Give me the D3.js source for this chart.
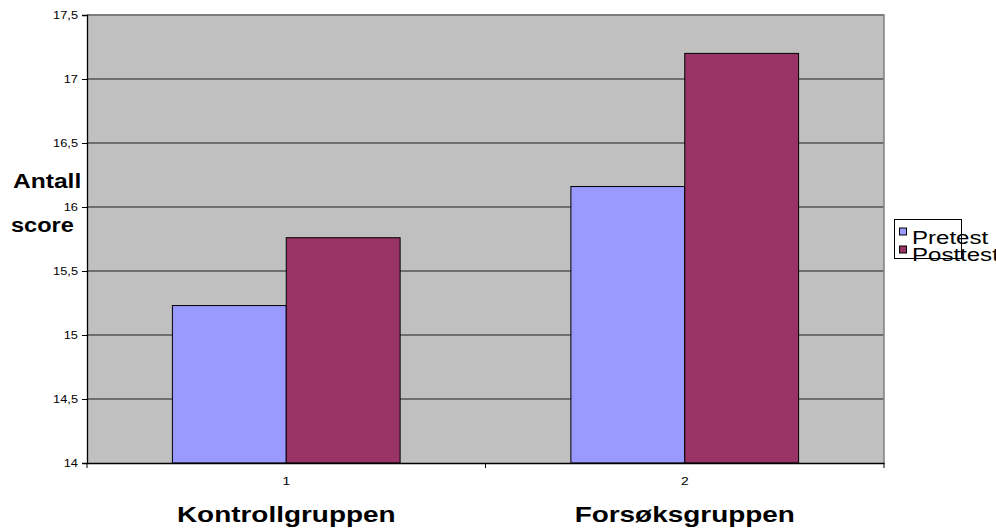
<!DOCTYPE html>
<html>
<head>
<meta charset="utf-8">
<script src="https://cdn.jsdelivr.net/npm/d3@7"></script>
<style>
  html, body { margin: 0; padding: 0; background: #fff; }
  svg { display: block; font-family: Arial, "Liberation Sans", sans-serif; }
</style>
</head>
<body>
<svg id="chart" width="996" height="529"></svg>
<script>
// Mean scores per group, before and after
const categories = ["1", "2"];
const groupNames = ["Kontrollgruppen", "Forsøksgruppen"];
const seriesNames = ["Pretest", "Posttest"];
const seriesColors = ["#9999FF", "#993366"];
const pretest = [15.23, 16.16];
const posttest = [15.76, 17.2];
const yTicks = [14, 14.5, 15, 15.5, 16, 16.5, 17, 17.5];

const series = [pretest, posttest];
const svg = d3.select("#chart");

const plot = { left: 87, right: 884, top: 15, bottom: 463 };

const x = d3.scaleBand().domain(categories).range([plot.left, plot.right]).padding(0);
const xInner = d3.scaleBand().domain(seriesNames).range([0, x.bandwidth()])
  .paddingInner(0).paddingOuter(0.75);
const y = d3.scaleLinear().domain([14, 17.5]).range([plot.bottom, plot.top]);

const fmt = v => d3.format("")(v).replace(".", ",");

// Plot area background
svg.append("rect")
  .attr("x", plot.left).attr("y", plot.top)
  .attr("width", plot.right - plot.left).attr("height", plot.bottom - plot.top)
  .attr("fill", "#C0C0C0");

// Horizontal gridlines
svg.append("g").selectAll("line")
  .data(yTicks.filter(t => t > 14))
  .join("line")
  .attr("x1", plot.left).attr("x2", plot.right)
  .attr("y1", d => y(d)).attr("y2", d => y(d))
  .attr("stroke", "#555").attr("stroke-width", 1.3);

// Frame on top and right side
svg.append("path")
  .attr("d", `M${plot.left},${plot.top}H${plot.right}V${plot.bottom}`)
  .attr("fill", "none").attr("stroke", "#808080").attr("stroke-width", 1.5);

// Bars
const groups = svg.append("g").selectAll("g")
  .data(categories)
  .join("g")
  .attr("transform", d => `translate(${x(d)},0)`);

groups.selectAll("rect")
  .data((d, i) => seriesNames.map((s, j) => ({ s, j, v: series[j][i] })))
  .join("rect")
  .attr("x", d => xInner(d.s))
  .attr("width", xInner.bandwidth())
  .attr("y", d => y(d.v))
  .attr("height", d => y(14) - y(d.v))
  .attr("fill", d => seriesColors[d.j])
  .attr("stroke", "#000").attr("stroke-width", 1);

// Y axis
const yAxis = d3.axisLeft(y).tickValues(yTicks).tickFormat(fmt).tickSize(5).tickPadding(4);
const gy = svg.append("g").attr("transform", `translate(${plot.left},0)`).call(yAxis);
gy.select(".domain").attr("stroke", "#000").attr("stroke-width", 1.3);
gy.selectAll(".tick line").attr("stroke", "#000");
gy.selectAll(".tick text")
  .attr("font-size", 10.5).attr("fill", "#000")
  .attr("font-family", "Arial, 'Liberation Sans', sans-serif")
  .attr("x", 0)
  .attr("transform", "translate(-9,0) scale(1.22,1)")
  .attr("text-anchor", "end");

// X axis with category boundaries as tick marks
const xAxis = d3.axisBottom(x).tickSize(0).tickPadding(0);
const gx = svg.append("g").attr("transform", `translate(0,${plot.bottom})`).call(xAxis);
gx.select(".domain").attr("stroke", "#000").attr("stroke-width", 1.5);
gx.selectAll(".tick text")
  .attr("font-size", 11.5).attr("fill", "#000")
  .attr("font-family", "Arial, 'Liberation Sans', sans-serif")
  .attr("y", 0).attr("dy", 0)
  .attr("transform", "translate(0,22) scale(1.2,1)");
gx.append("g").selectAll("line")
  .data([plot.left, x("2"), plot.right])
  .join("line")
  .attr("x1", d => d).attr("x2", d => d)
  .attr("y1", 0).attr("y2", 5)
  .attr("stroke", "#000");

// Stretched text helper
function label(txt, px, py, size, weight, sx, anchor) {
  svg.append("text")
    .attr("transform", `translate(${px},${py}) scale(${sx},1)`)
    .attr("font-size", size).attr("font-weight", weight)
    .attr("text-anchor", anchor || "start")
    .attr("fill", "#000")
    .text(txt);
}

// Group names under the axis
groupNames.forEach((g, i) => {
  label(g, x(categories[i]) + x.bandwidth() / 2, 522, 22, "bold", 1.27, "middle");
});

// Y axis title
label("Antall", 13, 188, 20.5, "bold", 1.2);
label("score", 11, 232, 20.5, "bold", 1.15);

// Legend
const lg = svg.append("g");
lg.append("rect")
  .attr("x", 894.5).attr("y", 219.5).attr("width", 67).attr("height", 39)
  .attr("fill", "none").attr("stroke", "#000").attr("stroke-width", 1);
seriesNames.forEach((s, i) => {
  lg.append("rect")
    .attr("x", 899.5).attr("y", 228 + i * 18)
    .attr("width", 7).attr("height", 7)
    .attr("fill", seriesColors[i]).attr("stroke", "#000").attr("stroke-width", 1);
  label(s, 912, 243.5 + i * 17.5, 18.5, "normal", 1.3);
});
</script>
</body>
</html>
